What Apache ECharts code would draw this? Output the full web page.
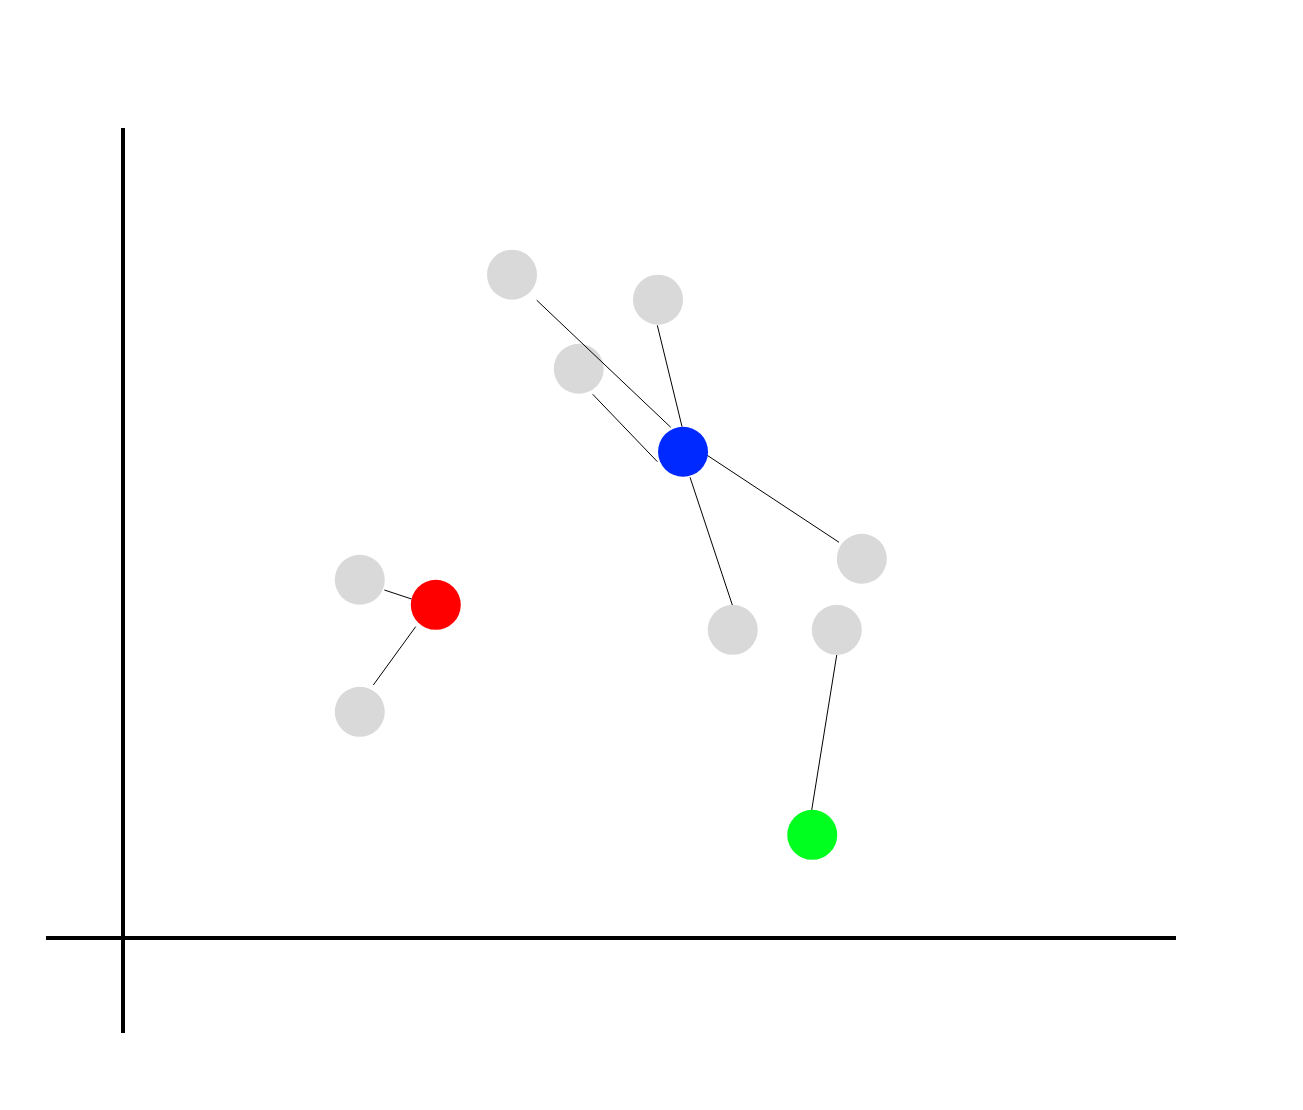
<!DOCTYPE html>
<html>
<head>
<meta charset="utf-8">
<script src="https://cdn.jsdelivr.net/npm/echarts@6/dist/echarts.min.js"></script>
<style>html,body{margin:0;padding:0;background:#fff;}#c{width:1303px;height:1110px;}</style>
</head>
<body>
<div id="c"></div>
<script>
// Member points (gray)
const grayPoints = [
  [5.052, 6.982], [6.948, 6.719], [5.919, 5.992], [9.595, 3.992],
  [7.919, 3.244], [9.270, 3.244], [3.075, 3.771], [3.075, 2.381]
];
// Cluster centres
const blueCentre = [[7.273, 5.118]];
const redCentre = [[4.062, 3.507]];
const greenCentre = [[8.951, 1.086]];
// Link segments [x1, y1, x2, y2]
const links = [
  [5.373, 6.713, 7.113, 5.376],
  [6.939, 6.449, 7.260, 5.382],
  [6.100, 5.723, 6.939, 5.014],
  [7.581, 5.084, 9.299, 4.165],
  [7.364, 4.849, 7.913, 3.505],
  [3.394, 3.663, 3.749, 3.568],
  [3.801, 3.277, 3.251, 2.663],
  [9.269, 2.979, 8.944, 1.347]
];
const xRange = [-1, 13.675];
const yRange = [-1, 8.526];

const chart = echarts.init(document.getElementById('c'));
const axisCommon = {
  type: 'value',
  axisLine: { show: true, onZero: true, lineStyle: { color: '#000', width: 4, cap: 'butt' } },
  axisTick: { show: false },
  axisLabel: { show: false },
  splitLine: { show: false }
};
chart.setOption({
  animation: false,
  backgroundColor: '#fff',
  grid: { left: 46, right: 127, top: 128, bottom: 77, containLabel: false },
  xAxis: Object.assign({}, axisCommon, { min: xRange[0], max: xRange[1] }),
  yAxis: Object.assign({}, axisCommon, { min: yRange[0], max: yRange[1] }),
  series: [
    {
      type: 'scatter', z: 2, symbolSize: 50,
      itemStyle: { color: '#d9d9d9', opacity: 1 },
      data: grayPoints
    },
    {
      type: 'lines',
      coordinateSystem: 'cartesian2d',
      z: 3,
      silent: true,
      lineStyle: { color: '#000', width: 1, opacity: 1 },
      data: links.map(l => ({ coords: [[l[0], l[1]], [l[2], l[3]]] }))
    },
    {
      type: 'scatter', z: 4, symbolSize: 50,
      itemStyle: { color: '#0029ff', opacity: 1 },
      data: blueCentre
    },
    {
      type: 'scatter', z: 4, symbolSize: 50,
      itemStyle: { color: '#ff0000', opacity: 1 },
      data: redCentre
    },
    {
      type: 'scatter', z: 4, symbolSize: 50,
      itemStyle: { color: '#00ff1f', opacity: 1 },
      data: greenCentre
    }
  ]
});
</script>
</body>
</html>
